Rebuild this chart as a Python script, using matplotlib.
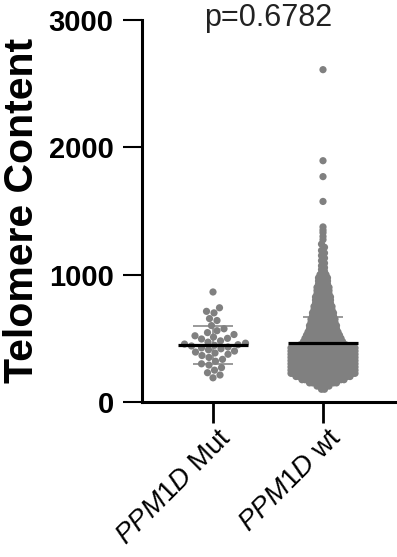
import numpy as np
import matplotlib
matplotlib.use('Agg')
import matplotlib.pyplot as plt
from matplotlib.transforms import ScaledTranslation

# ---------------- data ----------------
categories = ['PPM1D Mut', 'PPM1D wt']

mut_values = [864, 740, 712, 700, 655, 640, 600, 575, 560, 545, 530, 520, 510,
              500, 495, 480, 470, 462, 455, 450, 445, 440, 432, 425, 418, 410,
              400, 392, 385, 375, 365, 350, 335, 320, 300, 290, 270, 250, 230,
              212, 190]

# wt group: value levels and number of points at each level (dense part)
wt_levels = [100, 125, 150, 175, 200, 225, 250, 275, 300, 325, 350, 375, 400,
             425, 450, 475, 500, 525, 550, 575, 600, 625, 650, 675, 700, 725,
             750, 775, 800, 825, 850, 875, 900, 925, 950, 975, 1000]
wt_counts = [2, 5, 10, 15, 19, 30, 42, 55, 62, 65, 64, 60, 52,
             40, 16, 14, 13, 12, 11, 10, 10, 9, 9, 8, 8, 7,
             7, 6, 6, 6, 5, 5, 5, 4, 4, 4, 3]
# wt group: sparse upper points
wt_high = [1010, 1025, 1040, 1055, 1070, 1090, 1110, 1130, 1150, 1170, 1190,
           1215, 1240, 1275, 1300, 1330, 1350, 1375, 1575, 1770, 1895, 2610]

group_means = [450, 460]
group_sds = [150, 205]
p_label = 'p=0.6782'
y_ticks = [0, 1000, 2000, 3000]
y_label = 'Telomere Content'

# ---------------- style ----------------
plt.rcParams['font.family'] = ['Liberation Sans', 'DejaVu Sans']
plt.rcParams['mathtext.fontset'] = 'custom'
plt.rcParams['mathtext.it'] = 'Liberation Sans:italic'
plt.rcParams['mathtext.rm'] = 'Liberation Sans'

W, H = 397, 557
fig = plt.figure(figsize=(W / 100, H / 100), dpi=100)
ax_l, ax_r, ax_t, ax_b = 141.5, 397, 20, 402
ax = fig.add_axes([ax_l / W, 1 - ax_b / H, (ax_r - ax_l) / W, (ax_b - ax_t) / H])

x0px = 213.0   # pixel of first category
unit = 110.0   # pixels between categories
ax.set_xlim((ax_l - x0px) / unit, (ax_r - x0px) / unit)
ax.set_ylim(0, 3000)
px_per_val = (ax_b - ax_t) / 3000.0

point_color = '#808080'
msize = 27

# ---- swarm layout for the Mut group ----
def swarm_offsets(vals, dmin):
    order = np.argsort(vals)
    offs = np.zeros(len(vals))
    placed = []
    cand = [0.0]
    for k in np.arange(0.5, 60, 0.5):
        cand += [k, -k]
    for idx in order:
        y = vals[idx] * px_per_val
        for c in cand:
            ok = True
            for (px, py) in placed:
                if (c - px) ** 2 + (y - py) ** 2 < dmin ** 2:
                    ok = False
                    break
            if ok:
                offs[idx] = c
                placed.append((c, y))
                break
    return offs

mut_arr = np.array(mut_values, dtype=float)
mut_off = swarm_offsets(mut_arr, 7.2)
ax.scatter(0 + mut_off / unit, mut_arr, s=msize, color=point_color,
           edgecolors='none', zorder=2)

# ---- wt group layout ----
wt_x, wt_y = [], []
spacing, span_max = 3.0, 64.0
for lev, n in zip(wt_levels, wt_counts):
    span = min((n - 1) * spacing, span_max)
    offs = np.linspace(-span / 2, span / 2, n) if n > 1 else np.array([0.0])
    wt_x.extend(list(offs))
    wt_y.extend([lev] * n)
for i, v in enumerate(wt_high):
    off = (1.5 if i % 2 else -1.5) if v < 1260 else 0.0
    wt_x.append(off)
    wt_y.append(v)
wt_x = np.array(wt_x)
ax.scatter(1 + wt_x / unit, wt_y, s=msize, color=point_color,
           edgecolors='none', zorder=2)

# ---- mean & SD ----
for i, (m, sd) in enumerate(zip(group_means, group_sds)):
    ax.vlines(i, m - sd, m + sd, color='#9a9a9a', lw=1.4, zorder=1)
    ax.hlines([m - sd, m + sd], i - 0.18, i + 0.18, color='#9a9a9a', lw=1.4, zorder=1)
    ax.hlines(m, i - 0.32, i + 0.32, color='black', lw=2.3, zorder=4)

# ---- axes ----
for s in ['top', 'right']:
    ax.spines[s].set_visible(False)
for s in ['left', 'bottom']:
    ax.spines[s].set_linewidth(2.2)
ax.set_yticks(y_ticks)
ax.set_yticklabels([str(t) for t in y_ticks], fontweight='bold')
ax.tick_params(axis='y', length=14, width=1.5, labelsize=21, pad=6)
ax.set_xticks([0, 1])
ax.set_xticklabels([r'$\mathit{PPM1D}$ Mut', r'$\mathit{PPM1D}$ wt'])
ax.tick_params(axis='x', length=15, width=2, labelsize=20, pad=1)
for lab in ax.get_xticklabels():
    lab.set_rotation(45)
    lab.set_ha('right')
    lab.set_va('top')
    lab.set_rotation_mode('anchor')
    lab.set_transform(lab.get_transform() + ScaledTranslation(5 / 100, 0, fig.dpi_scale_trans))

fig.text(22 / W, 1 - 210 / H, y_label, rotation=90, ha='center', va='center',
         fontsize=29.5, fontweight='bold')
ax.text(0.5, 2950, p_label, ha='center', va='baseline', fontsize=22,
        color='#222222', clip_on=False)

fig.savefig('out.png', dpi=100)
